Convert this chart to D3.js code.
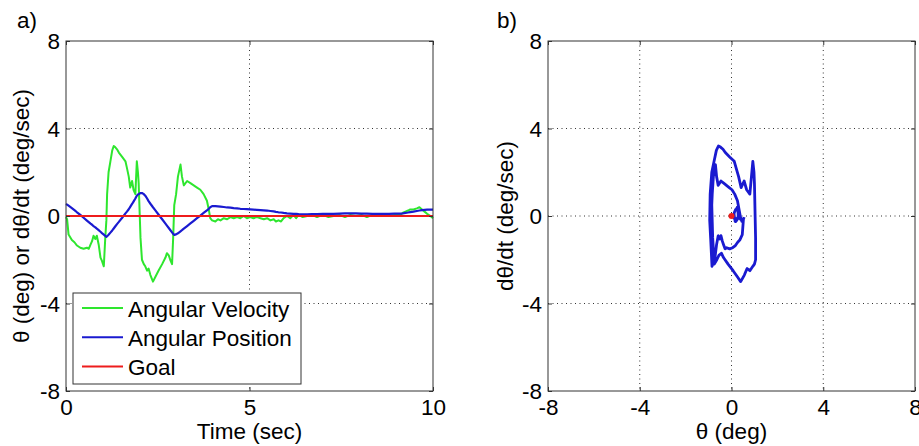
<!DOCTYPE html>
<html>
<head>
<meta charset="utf-8">
<script src="https://cdn.jsdelivr.net/npm/d3@7"></script>
<style>
  body { margin: 0; background: #fff; }
  svg text { font-family: "Liberation Sans", Arial, sans-serif; font-size: 22.5px; fill: #000; }
</style>
</head>
<body>
<svg id="chart" width="919" height="446"></svg>
<script>
// samples (time in sec, values in deg and deg/sec)
const time = [
  0.00, 0.03, 0.07, 0.16, 0.23, 0.30, 0.39, 0.48, 0.57, 0.62, 0.67, 0.71, 0.75, 0.80, 0.84, 0.89,
  0.94, 0.98, 1.03, 1.07, 1.10, 1.12, 1.16, 1.21, 1.26, 1.30, 1.34, 1.39, 1.44, 1.53, 1.62, 1.66,
  1.71, 1.75, 1.80, 1.84, 1.89, 1.93, 1.96, 1.98, 2.01, 2.03, 2.07, 2.12, 2.16, 2.21, 2.25, 2.30,
  2.37, 2.43, 2.52, 2.62, 2.71, 2.75, 2.80, 2.84, 2.89, 2.92, 2.95, 3.00, 3.05, 3.12, 3.16, 3.21,
  3.30, 3.39, 3.48, 3.57, 3.66, 3.75, 3.84, 3.89, 3.93, 3.98, 4.07, 4.14, 4.21, 4.30, 4.39, 4.48,
  4.57, 4.66, 4.75, 4.84, 4.93, 5.02, 5.11, 5.20, 5.30, 5.39, 5.48, 5.57, 5.66, 5.72, 5.79, 5.86,
  5.93, 6.02, 6.11, 6.20, 6.27, 6.34, 6.45, 6.57, 6.70, 6.84, 7.00, 7.15, 7.29, 7.45, 7.60, 7.75,
  7.90, 8.05, 8.20, 8.35, 8.50, 8.66, 8.80, 8.95, 9.11, 9.18, 9.25, 9.32, 9.38, 9.47, 9.56, 9.63,
  9.70, 9.77, 9.84, 9.93, 10.0
];
const velocity = [
  -0.05, -0.15, -0.85, -1.1, -1.2, -1.35, -1.45, -1.5, -1.45, -1.5, -1.3, -1.15, -0.9, -1.05, -0.9, -1.3,
  -1.9, -2.05, -2.3, -1.0, -0.2, 1.0, 2.0, 2.5, 3.0, 3.2, 3.15, 3.05, 2.9, 2.7, 2.5, 2.2,
  1.8, 1.3, 1.6, 1.2, 1.0, 2.5, 2.0, 1.5, 0.0, -1.0, -2.0, -2.2, -2.3, -2.5, -2.4, -2.7,
  -3.0, -2.8, -2.5, -2.2, -1.9, -1.7, -1.8, -2.0, -2.2, -1.0, 0.5, 1.0, 1.8, 2.35, 1.8, 1.4,
  1.6, 1.5, 1.4, 1.3, 1.2, 1.0, 0.7, 0.3, -0.1, -0.2, -0.25, -0.15, -0.2, -0.1, -0.15, -0.05,
  -0.1, -0.05, -0.1, 0.0, -0.1, -0.05, -0.1, -0.05, -0.1, -0.15, -0.1, -0.2, -0.15, -0.25, -0.2, -0.25,
  -0.1, 0.0, -0.1, 0.05, -0.1, 0.05, -0.05, 0.0, 0.05, -0.05, 0.05, -0.05, 0.0, 0.05, -0.05, 0.05,
  0.0, 0.05, -0.05, 0.05, 0.0, 0.05, 0.0, 0.05, 0.05, 0.15, 0.2, 0.25, 0.3, 0.3, 0.35, 0.4,
  0.3, 0.2, 0.1, 0.0, -0.1
];
const position = [
  0.55, 0.52, 0.47, 0.36, 0.27, 0.17, 0.05, -0.08, -0.21, -0.28, -0.35, -0.40, -0.46, -0.52, -0.58, -0.65,
  -0.72, -0.78, -0.85, -0.91, -0.95, -0.93, -0.86, -0.76, -0.66, -0.57, -0.48, -0.37, -0.27, -0.08, 0.12, 0.20,
  0.31, 0.42, 0.55, 0.66, 0.80, 0.93, 0.98, 1.00, 1.03, 1.05, 1.05, 1.00, 0.93, 0.80, 0.68, 0.56,
  0.40, 0.27, 0.07, -0.15, -0.35, -0.44, -0.55, -0.64, -0.75, -0.82, -0.86, -0.84, -0.79, -0.70, -0.65, -0.58,
  -0.46, -0.34, -0.22, -0.10, 0.02, 0.14, 0.26, 0.33, 0.40, 0.45, 0.45, 0.44, 0.43, 0.41, 0.39, 0.38,
  0.36, 0.35, 0.33, 0.32, 0.31, 0.30, 0.29, 0.28, 0.27, 0.26, 0.25, 0.23, 0.21, 0.19, 0.17, 0.16,
  0.14, 0.12, 0.11, 0.10, 0.10, 0.09, 0.08, 0.08, 0.09, 0.09, 0.10, 0.10, 0.10, 0.11, 0.12, 0.12,
  0.12, 0.11, 0.11, 0.10, 0.10, 0.10, 0.10, 0.11, 0.11, 0.12, 0.14, 0.16, 0.18, 0.20, 0.23, 0.25,
  0.27, 0.28, 0.29, 0.29, 0.29
];
const goalTime = [0, 10];
const goalValue = [0, 0];

const timeTicks = [0, 5, 10];
const valueTicks = [-8, -4, 0, 4, 8];
const thetaTicks = [-8, -4, 0, 4, 8];
const legendLabels = ["Angular Velocity", "Angular Position", "Goal"];

const colors = { velocity: "#2ee62e", position: "#1a1ad0", goal: "#ee1c1c" };
const panelA = { left: 66, top: 41, width: 367, height: 350 };
const panelB = { left: 548, top: 41, width: 367, height: 350 };

const svg = d3.select("#chart");

const drawGrid = (g, x, y, xTicks, yTicks, w, h) => {
  const grid = g.append("g").attr("class", "grid");
  grid.selectAll(".gx")
    .data(xTicks.slice(1, -1))
    .enter().append("line")
    .attr("x1", d => x(d)).attr("x2", d => x(d))
    .attr("y1", 0).attr("y2", h);
  grid.selectAll(".gy")
    .data(yTicks.slice(1, -1))
    .enter().append("line")
    .attr("y1", d => y(d)).attr("y2", d => y(d))
    .attr("x1", 0).attr("x2", w);
  grid.selectAll("line")
    .attr("stroke", "#333")
    .attr("stroke-width", 1)
    .attr("stroke-dasharray", "1,3.5");
};

const drawFrame = (g, x, y, xTicks, yTicks, w, h) => {
  const fmt = d => String(d);
  const bottom = g.append("g").attr("transform", `translate(0,${h})`)
    .call(d3.axisBottom(x).tickValues(xTicks).tickSize(-4).tickPadding(8).tickFormat(fmt));
  const left = g.append("g")
    .call(d3.axisLeft(y).tickValues(yTicks).tickSize(-4).tickPadding(6).tickFormat(fmt));
  g.append("g")
    .call(d3.axisTop(x).tickValues(xTicks).tickSize(-4).tickFormat(""));
  g.append("g").attr("transform", `translate(${w},0)`)
    .call(d3.axisRight(y).tickValues(yTicks).tickSize(-4).tickFormat(""));
  g.selectAll(".domain").remove();
  g.selectAll(".tick line").attr("stroke", "#333");
  g.selectAll(".tick text").attr("font-size", 22.5).attr("font-family", null).attr("fill", "#000");
  left.selectAll(".tick text").attr("dy", "0.35em");
  bottom.selectAll(".tick text").attr("dy", "0.72em");
  g.append("rect")
    .attr("x", 0).attr("y", 0).attr("width", w).attr("height", h)
    .attr("fill", "none").attr("stroke", "#333").attr("stroke-width", 1);
};

// ---- panel a) time series ----
const drawTimeSeries = () => {
  const g = svg.append("g").attr("transform", `translate(${panelA.left},${panelA.top})`);
  const x = d3.scaleLinear().domain([0, 10]).range([0, panelA.width]);
  const y = d3.scaleLinear().domain([-8, 8]).range([panelA.height, 0]);

  drawGrid(g, x, y, timeTicks, valueTicks, panelA.width, panelA.height);

  const line = d3.line().x(d => x(d[0])).y(d => y(d[1]));
  g.append("path")
    .attr("d", line(d3.zip(time, velocity)))
    .attr("fill", "none").attr("stroke", colors.velocity).attr("stroke-width", 2)
    .attr("stroke-linejoin", "round");
  g.append("path")
    .attr("d", line(d3.zip(time, position)))
    .attr("fill", "none").attr("stroke", colors.position).attr("stroke-width", 2.2)
    .attr("stroke-linejoin", "round");
  g.append("path")
    .attr("d", line(d3.zip(goalTime, goalValue)))
    .attr("fill", "none").attr("stroke", colors.goal).attr("stroke-width", 2);

  // legend
  const legend = svg.append("g").attr("class", "legend");
  legend.append("rect")
    .attr("x", 73).attr("y", 293).attr("width", 228).attr("height", 91)
    .attr("fill", "#fff").attr("stroke", "#333").attr("stroke-width", 1);
  const legendColors = [colors.velocity, colors.position, colors.goal];
  const rows = legend.selectAll(".row")
    .data(legendLabels)
    .enter().append("g")
    .attr("transform", (d, i) => `translate(0,${308 + i * 29.3})`);
  rows.append("line")
    .attr("x1", 82).attr("x2", 123).attr("y1", 0).attr("y2", 0)
    .attr("stroke", (d, i) => legendColors[i]).attr("stroke-width", 2);
  rows.append("text")
    .attr("x", 128).attr("y", 8.5)
    .text(d => d);

  drawFrame(g, x, y, timeTicks, valueTicks, panelA.width, panelA.height);

  g.append("text")
    .attr("x", panelA.width / 2).attr("y", panelA.height + 48)
    .attr("text-anchor", "middle")
    .text("Time (sec)");
  g.append("text")
    .attr("transform", "rotate(-90)")
    .attr("x", -panelA.height / 2).attr("y", -37)
    .attr("text-anchor", "middle")
    .text("θ (deg) or dθ/dt (deg/sec)");
  svg.append("text").attr("x", 17).attr("y", 28).text("a)");
};

// ---- panel b) phase plane ----
const drawPhasePlane = () => {
  const g = svg.append("g").attr("transform", `translate(${panelB.left},${panelB.top})`);
  const x = d3.scaleLinear().domain([-8, 8]).range([0, panelB.width]);
  const y = d3.scaleLinear().domain([-8, 8]).range([panelB.height, 0]);

  drawGrid(g, x, y, thetaTicks, valueTicks, panelB.width, panelB.height);

  const line = d3.line().x(d => x(d[0])).y(d => y(d[1]));
  g.append("path")
    .attr("d", line(d3.zip(position, velocity)))
    .attr("fill", "none").attr("stroke", colors.position).attr("stroke-width", 2.8)
    .attr("stroke-linejoin", "round");
  g.append("circle")
    .attr("cx", x(goalValue[0])).attr("cy", y(goalValue[1])).attr("r", 3)
    .attr("fill", colors.goal);

  drawFrame(g, x, y, thetaTicks, valueTicks, panelB.width, panelB.height);

  g.append("text")
    .attr("x", panelB.width / 2).attr("y", panelB.height + 48)
    .attr("text-anchor", "middle")
    .text("θ (deg)");
  g.append("text")
    .attr("transform", "rotate(-90)")
    .attr("x", -panelB.height / 2).attr("y", -35)
    .attr("text-anchor", "middle")
    .text("dθ/dt (deg/sec)");
  svg.append("text").attr("x", 497).attr("y", 28).text("b)");
};

drawTimeSeries();
drawPhasePlane();
</script>
</body>
</html>
